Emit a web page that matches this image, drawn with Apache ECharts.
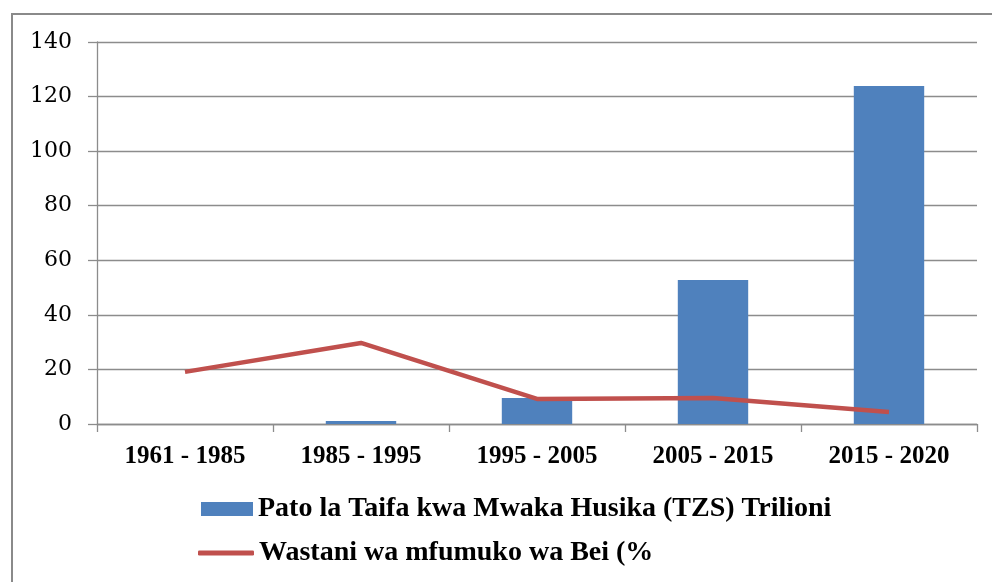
<!DOCTYPE html>
<html><head><meta charset="utf-8">
<script src="https://cdn.jsdelivr.net/npm/echarts@6/dist/echarts.min.js"></script>
<style>html,body{margin:0;padding:0;background:#fff}#c{width:992px;height:582px}</style>
</head><body><div id="c"></div>
<script>
const categories = ['1961 - 1985', '1985 - 1995', '1995 - 2005', '2005 - 2015', '2015 - 2020'];
const gdpValues = [0, 1.1, 9.5, 52.8, 123.9];
const inflationValues = [19.1, 29.7, 9.2, 9.5, 4.4];
const yTicks = [0, 20, 40, 60, 80, 100, 120, 140];
const gdpName = 'Pato la Taifa kwa Mwaka Husika (TZS) Trilioni';
const infName = 'Wastani wa mfumuko wa Bei (%';

const font = '"Liberation Serif", "DejaVu Serif", serif';
const chart = echarts.init(document.getElementById('c'));
chart.setOption({
  animation: false,
  textStyle: { fontFamily: font },
  graphic: [{
    type: 'rect', left: 11, top: 13, z: -1,
    shape: { width: 1100, height: 700 },
    style: { fill: '#fff', stroke: '#8a8a8a', lineWidth: 2 }
  }],
  grid: { left: 97, right: 15, top: 42, bottom: 158 },
  legend: [{
    left: 201, top: 495, padding: 0, icon: 'rect', itemWidth: 52, itemHeight: 14,
    data: [gdpName],
    textStyle: { fontFamily: font, fontWeight: 'bold', fontSize: 28, color: '#000' }
  }, {
    left: 198, top: 539, padding: 0, icon: 'roundRect', itemWidth: 56, itemHeight: 5,
    data: [infName],
    textStyle: { fontFamily: font, fontWeight: 'bold', fontSize: 28, color: '#000' }
  }],
  xAxis: {
    type: 'category', data: categories, boundaryGap: true,
    axisLine: { lineStyle: { color: '#8c8c8c', width: 1.3 } },
    axisTick: { show: true, length: 8, lineStyle: { color: '#8c8c8c', width: 1.3 } },
    axisLabel: { color: '#000', fontSize: 25, fontWeight: 'bold', fontFamily: font, margin: 20 }
  },
  yAxis: {
    type: 'value', min: yTicks[0], max: yTicks[yTicks.length - 1], interval: 20,
    axisLine: { show: true, lineStyle: { color: '#8c8c8c', width: 1.3 } },
    axisTick: { show: true, length: 9, lineStyle: { color: '#8c8c8c', width: 1.3 } },
    splitLine: { lineStyle: { color: '#8c8c8c', width: 1.3 } },
    axisLabel: { color: '#000', fontSize: 22, fontFamily: '"DejaVu Serif", serif', margin: 25 }
  },
  series: [{
    name: gdpName, type: 'bar', data: gdpValues, barWidth: '40%',
    itemStyle: { color: '#4F81BD' }
  }, {
    name: infName, type: 'line', data: inflationValues, symbol: 'none',
    lineStyle: { color: '#C0504D', width: 4.5 }, itemStyle: { color: '#C0504D' }
  }]
});
</script></body></html>
